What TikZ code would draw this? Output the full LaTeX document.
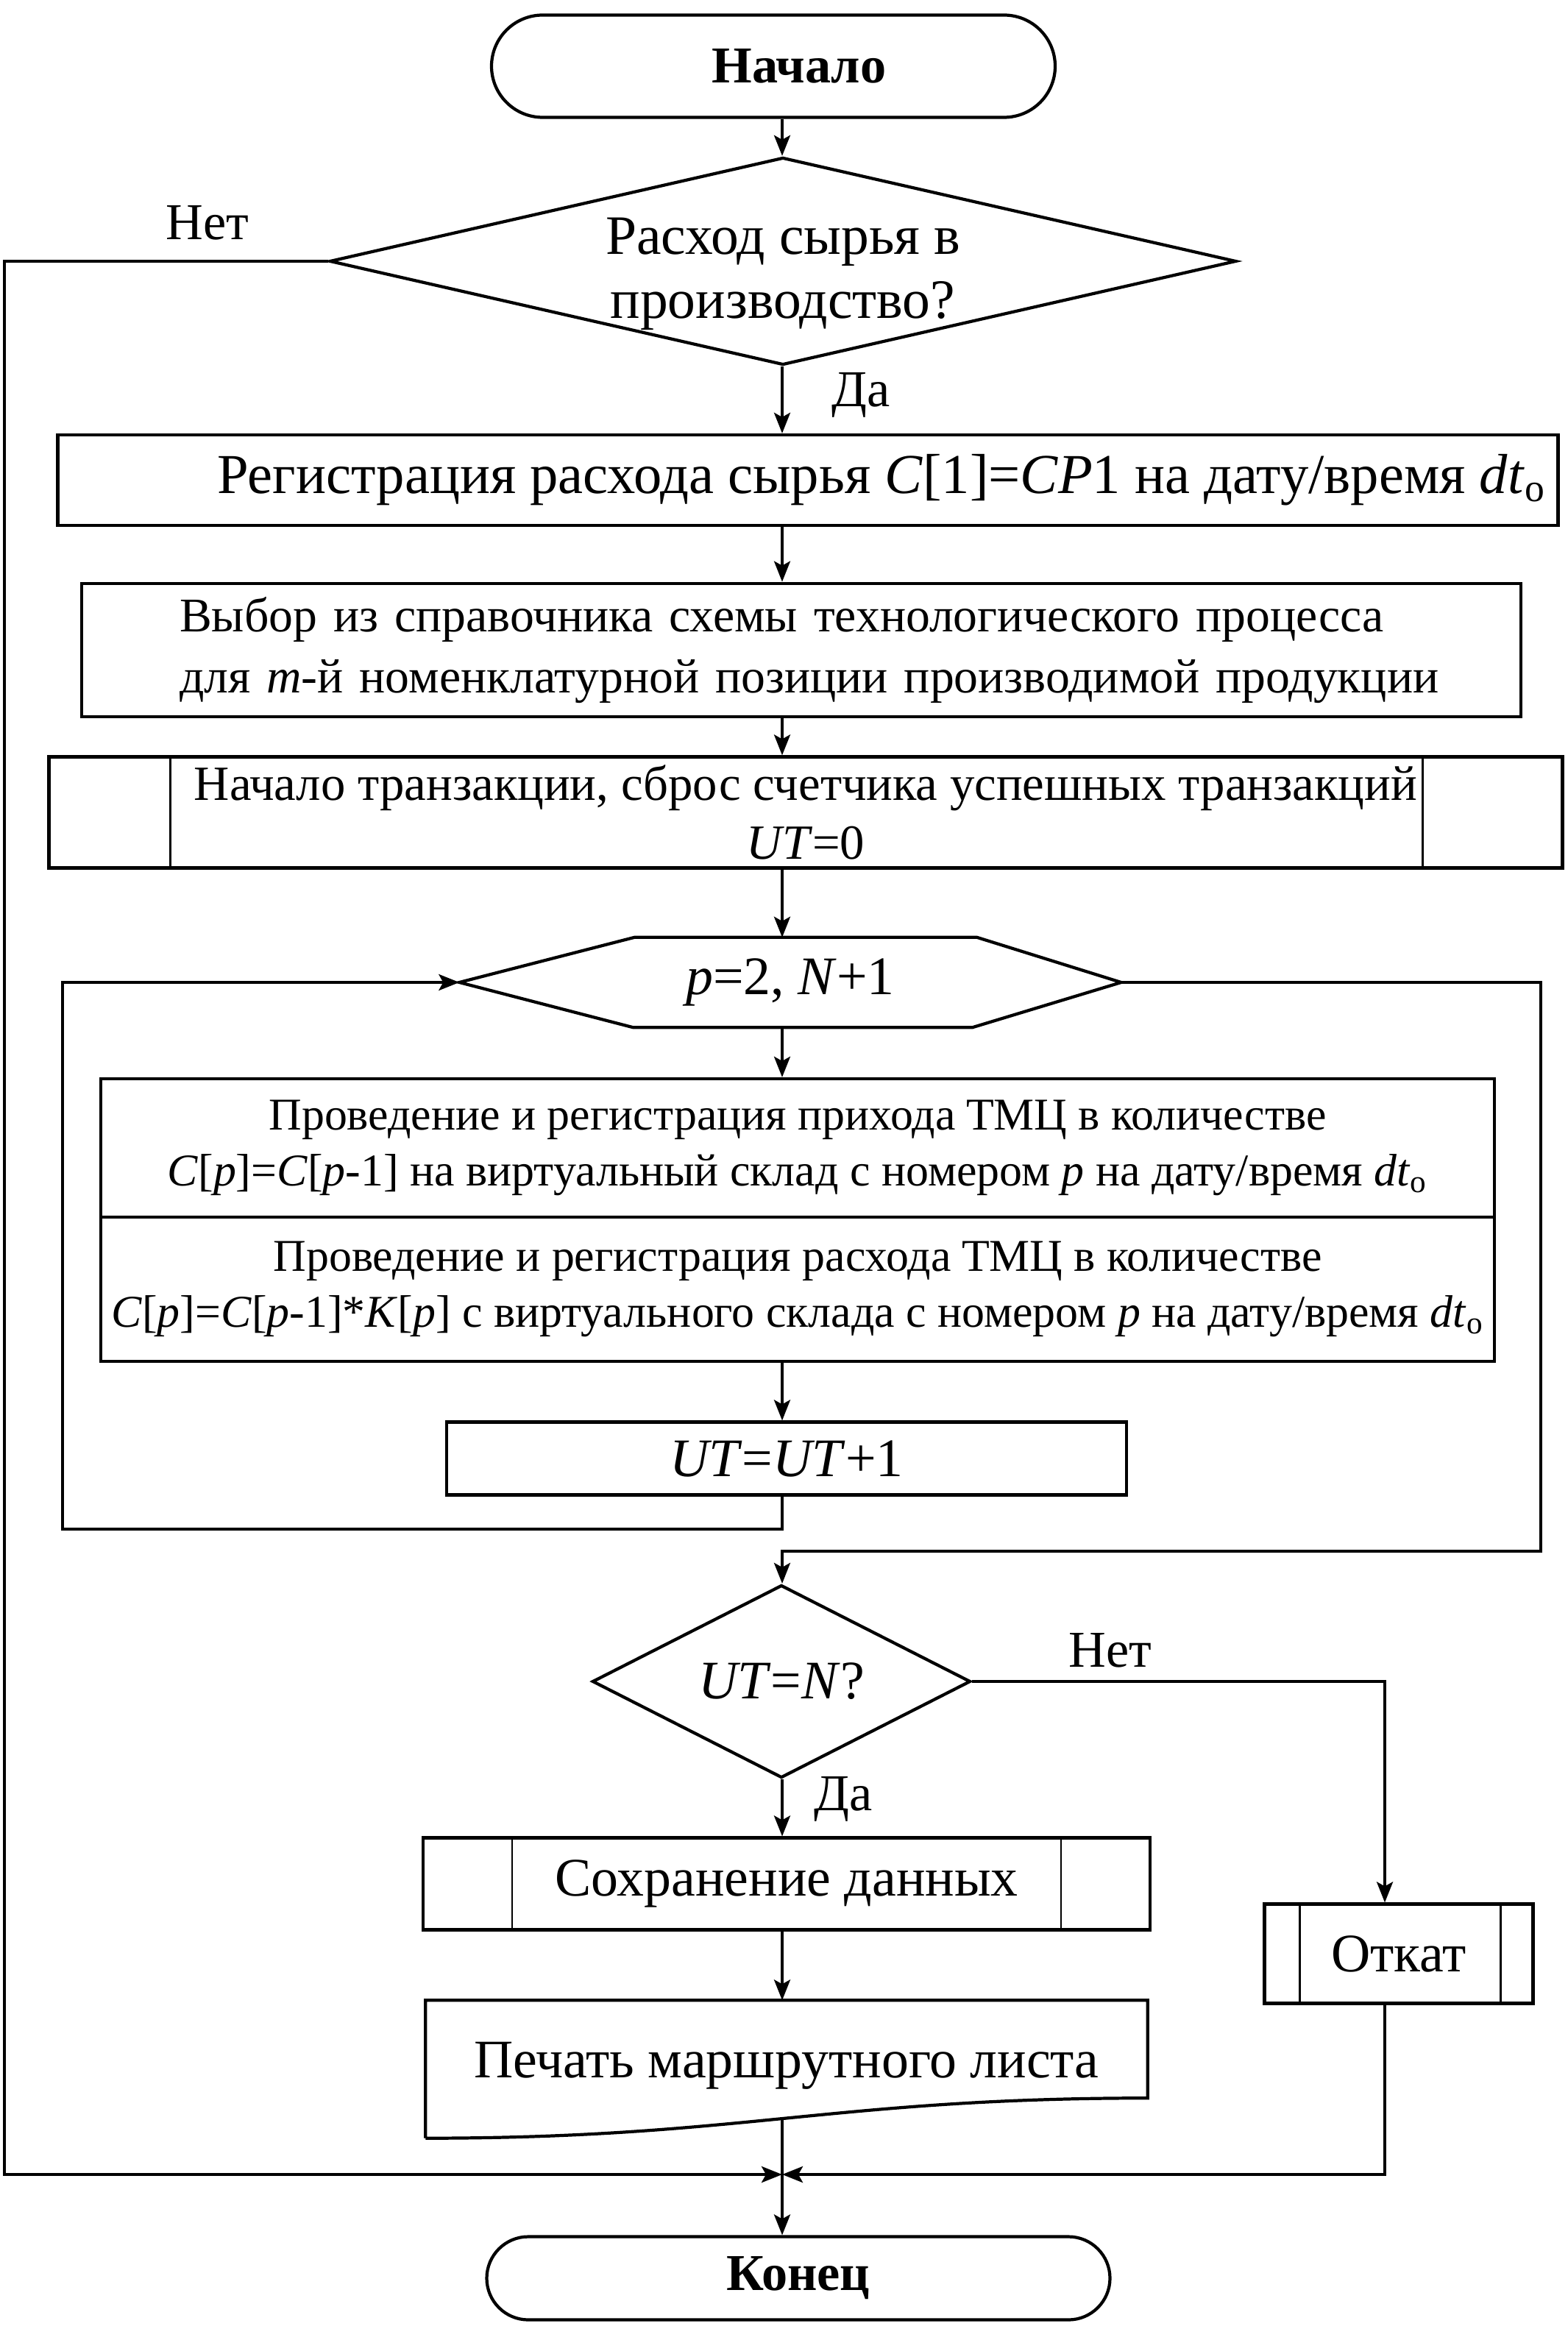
\documentclass[tikz,border=0pt]{standalone}
\usepackage{fontspec}
\setmainfont{Liberation Serif}
\usetikzlibrary{arrows.meta,positioning,shapes.geometric,shapes.misc,calc}

\begin{document}
\begin{tikzpicture}[
    font=\fontsize{20}{24}\selectfont,
    outline/.style={line width=1.2pt},
    terminal/.style={outline, draw, rounded rectangle, inner sep=0, font=\fontsize{20}{24}\selectfont\bfseries},
    process/.style={outline, draw, rectangle, inner sep=0, align=center},
    decision/.style={outline, draw, diamond, inner sep=0, align=center},
    tip/.style={-{Stealth[length=2.8mm,width=2.2mm,inset=0.6mm]}},
    flow/.style={line width=1.1pt, tip},
    loopline/.style={line width=1.1pt},
    sideline/.style={line width=0.7pt},
]
\useasboundingbox (0,0) rectangle (21.30,-31.65);
\coordinate (axis) at (10.63,0);

% main column
\node[terminal, minimum width=7.66cm, minimum height=1.39cm] (start) at (10.51,-0.90) {\hspace*{0.7cm}Начало};
\node[decision, aspect=4.37, minimum width=12.32cm, minimum height=2.82cm,
      font=\fontsize{21.5}{24.6}\selectfont] (raw) at (10.64,-3.55)
    {\raisebox{-0.35cm}[0pt][0pt]{\begin{tabular}{@{}c@{}}Расход сырья в\\производство?\end{tabular}}};
\node[process, minimum width=20.39cm, minimum height=1.23cm, font=\fontsize{21.8}{24}\selectfont] (reg) at (10.98,-6.525)
    {\hspace*{2cm}Регистрация расхода сырья \textit{C}[1]=\textit{CP}1 на дату/время \textit{dt}\textsubscript{о}};
\node[process, minimum width=19.56cm, minimum height=1.815cm, text width=18.0cm, align=left,
      font=\fontsize{18.7}{23.5}\selectfont] (scheme) at (10.89,-8.835)
    {\hspace*{0.55cm}Выбор из справочника схемы технологического процесса\\\hspace*{0.55cm}для \textit{m}-й номенклатурной позиции производимой продукции};
\node[process, minimum width=20.57cm, minimum height=1.51cm, font=\fontsize{19}{23}\selectfont] (trans) at (10.95,-11.04)
    {Начало транзакции, сброс счетчика успешных транзакций\\\textit{UT}=0};
\draw[sideline] ([xshift=1.67cm]trans.north west) -- ([xshift=1.67cm]trans.south west);
\draw[sideline] ([xshift=-1.92cm]trans.north east) -- ([xshift=-1.92cm]trans.south east);

% loop header
\node[minimum width=8.98cm, minimum height=1.21cm, inner sep=0, font=\fontsize{21}{24}\selectfont] (cycle) at (10.74,-13.35)
    {\textit{p}=2, \textit{N}+1};
\draw[outline] (cycle.west) -- ([xshift=2.38cm]cycle.north west) -- ([xshift=-1.96cm]cycle.north east)
    -- (cycle.east) -- ([xshift=-2.02cm]cycle.south east) -- ([xshift=2.36cm]cycle.south west) -- cycle;

\node[process, minimum width=18.94cm, minimum height=1.88cm, font=\fontsize{17.6}{21.5}\selectfont] (income) at (10.84,-15.60)
    {Проведение и регистрация прихода ТМЦ в количестве\\
     \textit{C}[\textit{p}]=\textit{C}[\textit{p}-1] на виртуальный склад с номером \textit{p} на дату/время \textit{dt}\textsubscript{о}};
\node[process, minimum width=18.94cm, minimum height=1.96cm, font=\fontsize{17.6}{21.5}\selectfont] (outgo) at (10.84,-17.52)
    {Проведение и регистрация расхода ТМЦ в количестве\\
     \textit{C}[\textit{p}]=\textit{C}[\textit{p}-1]*\textit{K}[\textit{p}] с виртуального склада с номером \textit{p} на дату/время \textit{dt}\textsubscript{о}};
\node[process, minimum width=9.24cm, minimum height=0.99cm, font=\fontsize{21}{24}\selectfont] (count) at (10.69,-19.82)
    {\textit{UT}=\textit{UT}+1};

% check
\node[decision, aspect=2, minimum width=5.14cm, minimum height=2.62cm, font=\fontsize{21}{24}\selectfont] (check) at (10.62,-22.85)
    {\textit{UT}=\textit{N}?};
\node[process, minimum width=9.88cm, minimum height=1.25cm, font=\fontsize{21}{24}\selectfont] (save) at (10.69,-25.60)
    {Сохранение данных};
\draw[sideline] ([xshift=1.23cm]save.north west) -- ([xshift=1.23cm]save.south west);
\draw[sideline] ([xshift=-1.23cm]save.north east) -- ([xshift=-1.23cm]save.south east);
\node[process, minimum width=3.65cm, minimum height=1.35cm, font=\fontsize{21}{24}\selectfont] (undo) at (19.01,-26.55)
    {Откат};
\draw[sideline] ([xshift=0.50cm]undo.north west) -- ([xshift=0.50cm]undo.south west);
\draw[sideline] ([xshift=-0.46cm]undo.north east) -- ([xshift=-0.46cm]undo.south east);

% document shape
\node[minimum width=9.80cm, minimum height=1.86cm, inner sep=0, font=\fontsize{21}{24}\selectfont] (print) at (10.69,-28.12)
    {\raisebox{0.25cm}{Печать маршрутного листа}};
\draw[outline] (print.south west) -- (print.north west) -- (print.north east) -- ([yshift=0.545cm]print.south east)
    .. controls ([xshift=-4.30cm,yshift=0.545cm]print.south east) and ([xshift=4.30cm]print.south west) ..
    coordinate[pos=0.5] (printbot) (print.south west);

\node[terminal, minimum width=8.47cm, minimum height=1.13cm] (stop) at (10.85,-30.96) {Конец};

% labels
\node (no1) at (2.82,-3.03) {Нет};
\node (yes1) at (11.70,-5.37) {Да};
\node (no2) at (15.09,-22.43) {Нет};
\node (yes2) at (11.46,-24.45) {Да};

% connectors
\coordinate (join) at (10.63,-29.55);
\coordinate (leftedge) at (0.06,-29.55);
\coordinate (loopL) at (0.847,-20.78);
\coordinate (loopR) at (20.94,-21.08);
\coordinate (rx) at (18.82,0);

\draw[flow] (start.south -| axis) -- (raw.north -| axis);
\draw[flow] (raw.south -| axis) -- (reg.north -| axis);
\draw[flow] (reg.south -| axis) -- (scheme.north -| axis);
\draw[flow] (scheme.south -| axis) -- (trans.north -| axis);
\draw[flow] (trans.south -| axis) -- (cycle.north -| axis);
\draw[flow] (cycle.south -| axis) -- (income.north -| axis);
\draw[flow] (outgo.south -| axis) -- (count.north -| axis);
\draw[loopline, tip] (count.south -| axis) |- (loopL) |- (cycle.west);
\draw[loopline, tip] (cycle.east) -| (loopR) -| (check.north -| axis);
\draw[loopline, tip] (raw.west) -| (leftedge) -- (join);
\draw[flow] (check.south -| axis) -- (save.north -| axis);
\draw[flow] (save.south -| axis) -- (print.north -| axis);
\draw[flow] (check.east) -| (undo.north -| rx);
\draw[flow] (undo.south -| rx) |- (join);
\draw[flow] (axis |- printbot) -- (stop.north -| axis);

\end{tikzpicture}
\end{document}
